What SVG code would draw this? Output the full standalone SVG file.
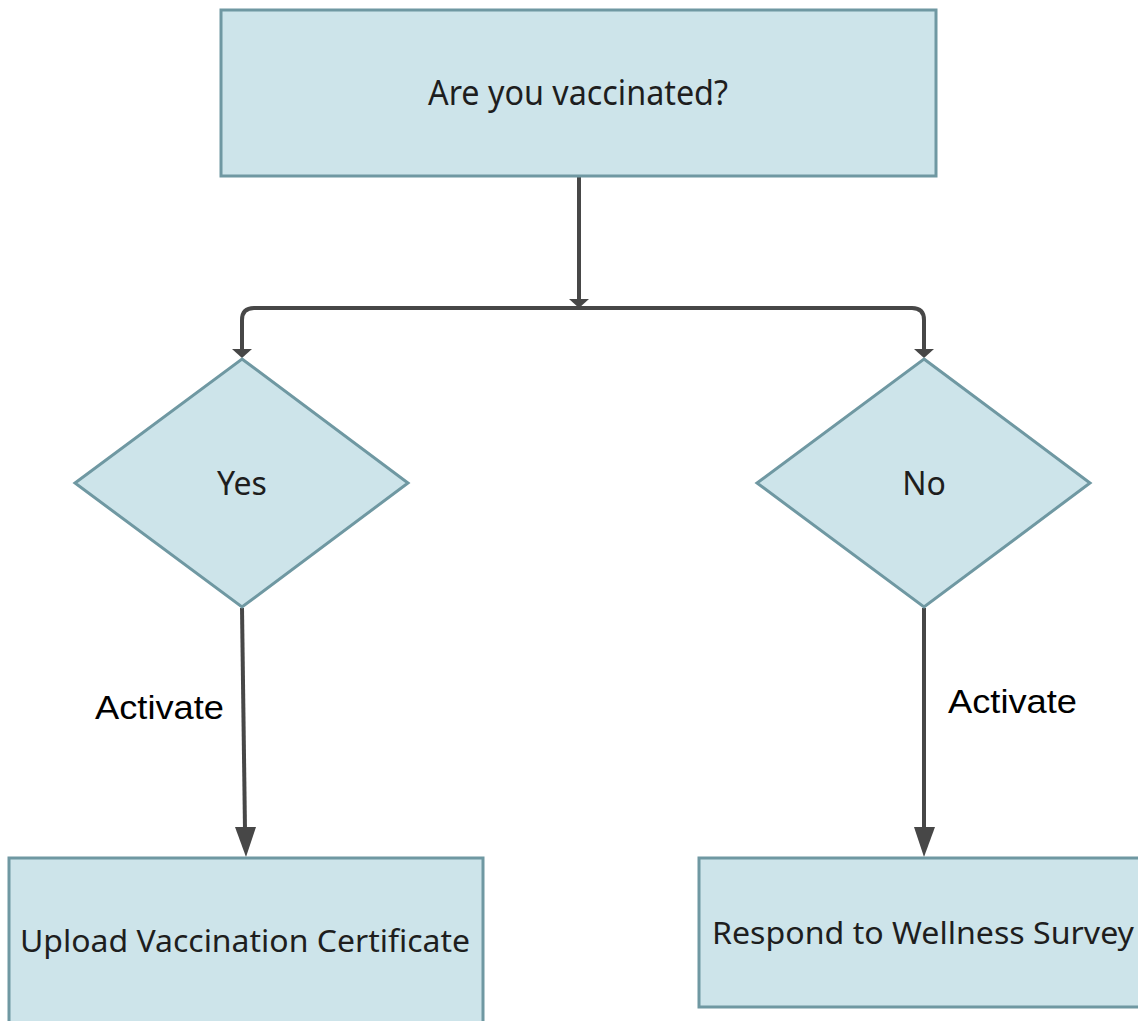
<svg xmlns="http://www.w3.org/2000/svg" width="1138" height="1021" viewBox="0 0 1138 1021">
<style>
.node{fill:#cde4ea;stroke:#6f98a2;stroke-width:3}
.lbl{font-family:"Noto Sans","Open Sans","Liberation Sans",sans-serif;font-size:31px;fill:#1e1e1e;text-anchor:middle;dominant-baseline:central}
.edge{fill:none;stroke:#474747;stroke-width:4}
.elbl{font-family:"Liberation Sans",Arial,sans-serif;font-size:33px;fill:#000;dominant-baseline:central}
</style>
<rect width="1138" height="1021" fill="#fff"/>
<g id="connectors">
<line class="edge" x1="579" y1="176" x2="579" y2="300"/>
<path d="M569,299 L589,299 L579,308 Z" fill="#474747"/>
<path class="edge" d="M254,308 L912,308 Q924,308 924,320 L924,350"/>
<path class="edge" d="M254,308 Q242,308 242,320 L242,350"/>
<path d="M232,349 L252,349 L242,358 Z" fill="#474747"/>
<path d="M914,349 L934,349 L924,358 Z" fill="#474747"/>
<line class="edge" x1="242" y1="608" x2="245" y2="830"/>
<path d="M235,827 L256,827 L246,857 Z" fill="#474747"/>
<line class="edge" x1="924" y1="608" x2="924" y2="830"/>
<path d="M914,827 L935,827 L924,857 Z" fill="#474747"/>
<text class="elbl" x="95" y="707" textLength="129" lengthAdjust="spacingAndGlyphs">Activate</text>
<text class="elbl" x="948" y="701" textLength="129" lengthAdjust="spacingAndGlyphs">Activate</text>
</g>
<g id="q">
<rect class="node" x="221" y="10" width="715" height="166"/>
<text class="lbl" x="578" y="92" style="font-size:34px" textLength="300" lengthAdjust="spacingAndGlyphs">Are you vaccinated?</text>
</g>
<g id="yes">
<polygon class="node" points="242,359 408,483 242,607 75,483"/>
<text class="lbl" x="242" y="482" style="font-size:32px">Yes</text>
</g>
<g id="no">
<polygon class="node" points="924,359 1090,483 924,607 757,483"/>
<text class="lbl" x="924" y="482" style="font-size:32px">No</text>
</g>
<g id="upload">
<rect class="node" x="9" y="858" width="474" height="180"/>
<text class="lbl" x="245" y="940" textLength="450" lengthAdjust="spacingAndGlyphs">Upload Vaccination Certificate</text>
</g>
<g id="survey">
<rect class="node" x="699" y="858" width="460" height="149"/>
<text class="lbl" x="923" y="932" textLength="422" lengthAdjust="spacingAndGlyphs">Respond to Wellness Survey</text>
</g>
</svg>
